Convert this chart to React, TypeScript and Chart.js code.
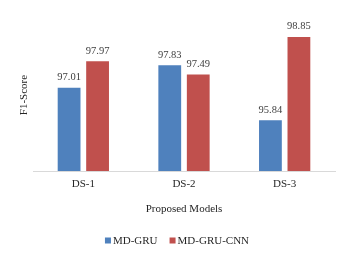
import React, { useEffect, useRef } from "react";
import { Chart, registerables } from "chart.js";

Chart.register(...registerables);

const categories = ["DS-1", "DS-2", "DS-3"];
const mdGru = [97.01, 97.83, 95.84];
const mdGruCnn = [97.97, 97.49, 98.85];
const seriesNames = ["MD-GRU", "MD-GRU-CNN"];
const seriesColors = ["#4f81bd", "#c0504d"];

const FONT = "'Liberation Serif', 'Times New Roman', serif";

const labelPlugin = {
  id: "barLabels",
  afterDatasetsDraw(chart: any) {
    const ctx = chart.ctx;
    ctx.save();
    ctx.font = `10.5px ${FONT}`;
    ctx.fillStyle = "#404040";
    ctx.textAlign = "center";
    ctx.textBaseline = "bottom";
    chart.data.datasets.forEach((ds: any, i: number) => {
      const meta = chart.getDatasetMeta(i);
      meta.data.forEach((el: any, j: number) => {
        ctx.fillText(ds.data[j].toFixed(2), el.x, el.y - 5);
      });
    });
    ctx.restore();
  },
};

const legendPlugin = {
  id: "customLegend",
  afterDraw(chart: any) {
    const ctx = chart.ctx;
    ctx.save();
    ctx.font = `11px ${FONT}`;
    ctx.textBaseline = "middle";
    ctx.textAlign = "left";
    const box = 6;
    const gap = 2;
    const itemGap = 12;
    const items = chart.data.datasets.map((ds: any) => ({
      label: ds.label,
      color: ds.backgroundColor,
      w: box + gap + ctx.measureText(ds.label).width,
    }));
    const total = items.reduce((a: number, it: any) => a + it.w, 0) + itemGap * (items.length - 1);
    let x = 177 - total / 2;
    const cy = 240.5;
    items.forEach((it: any) => {
      ctx.fillStyle = it.color;
      ctx.fillRect(x, cy - box / 2, box, box);
      ctx.fillStyle = "#262626";
      ctx.fillText(it.label, x + box + gap, cy + 0.5);
      x += it.w + itemGap;
    });
    ctx.restore();
  },
};

export default function App() {
  const ref = useRef<HTMLCanvasElement>(null);
  useEffect(() => {
    const chart = new Chart(ref.current!, {
      type: "bar",
      data: {
        labels: categories,
        datasets: [
          {
            label: seriesNames[0],
            data: mdGru,
            backgroundColor: seriesColors[0],
            categoryPercentage: 0.566,
            barPercentage: 0.8,
          },
          {
            label: seriesNames[1],
            data: mdGruCnn,
            backgroundColor: seriesColors[1],
            categoryPercentage: 0.566,
            barPercentage: 0.8,
          },
        ],
      },
      options: {
        animation: false,
        responsive: false,
        maintainAspectRatio: false,
        layout: { padding: { left: 18, right: 15, top: 19, bottom: 43.6 } },
        scales: {
          y: {
            min: 94,
            max: 99.5,
            ticks: { display: false },
            grid: { display: false },
            border: { display: false },
            afterFit: (s: any) => {
              s.width = 15;
            },
            title: {
              display: true,
              text: "F1-Score",
              color: "#262626",
              font: { family: FONT, size: 11 },
              padding: { top: 0, bottom: 2 },
            },
          },
          x: {
            grid: { display: false, drawTicks: false },
            border: { color: "#d9d9d9", width: 1 },
            ticks: {
              color: "#262626",
              font: { family: FONT, size: 11 },
              padding: 7,
            },
            title: {
              display: true,
              text: "Proposed Models",
              color: "#262626",
              font: { family: FONT, size: 11 },
              padding: { top: 4, bottom: 0 },
            },
          },
        },
        plugins: {
          legend: { display: false },
          tooltip: { enabled: false },
        },
      },
      plugins: [labelPlugin, legendPlugin],
    });
    return () => chart.destroy();
  }, []);
  return (
    <div style={{ position: "fixed", left: 0, top: 0, width: 350, height: 259, background: "#fff" }}>
      <canvas ref={ref} width={350} height={259} style={{ width: 350, height: 259 }} />
    </div>
  );
}
